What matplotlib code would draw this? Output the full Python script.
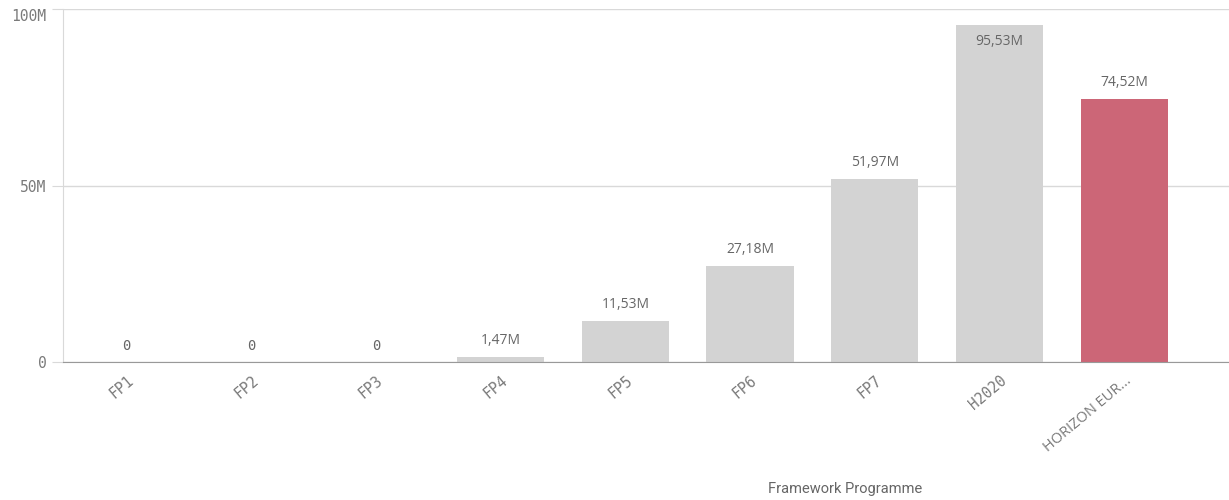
import matplotlib
matplotlib.use("Agg")
import matplotlib.pyplot as plt

# Funding per framework programme
programmes = ["FP1", "FP2", "FP3", "FP4", "FP5", "FP6", "FP7", "H2020", "HORIZON EUR..."]
funding = [0, 0, 0, 1.47e6, 11.53e6, 27.18e6, 51.97e6, 95.53e6, 74.52e6]
value_labels = ["0", "0", "0", "1,47M", "11,53M", "27,18M", "51,97M", "95,53M", "74,52M"]
y_ticks = [0, 50e6, 100e6]
y_tick_labels = ["0", "50M", "100M"]

grey = "#d3d3d3"
highlight = "#cc6677"
text_col = "#666666"
tick_col = "#7a7a7a"

fig = plt.figure(figsize=(12.29, 5.0), dpi=100)
ax = fig.add_axes([63 / 1229, 138 / 500, 1166 / 1229, 353 / 500])

x = list(range(len(programmes)))
colors = [grey] * (len(programmes) - 1) + [highlight]
ax.bar(x, funding, width=0.70, color=colors, zorder=2)

ax.set_xlim(-0.51, 8.84)
ax.set_ylim(0, 100e6)
ax.set_yticks(y_ticks)
ax.set_yticklabels(y_tick_labels, family="DejaVu Sans Mono", fontsize=10.5, color=tick_col)
# keep the top label inside the figure
ax.yaxis.get_major_ticks()[-1].label1.set_va("top")

ax.set_xticks(x)
ax.set_xticklabels(programmes, rotation=40, ha="right", rotation_mode="anchor",
                   family=["DejaVu Sans Mono"], fontsize=10.5, color=tick_col)
# the last label uses a proportional face
ax.get_xticklabels()[-1].set_family("Open Sans")

ax.grid(axis="y", color="#d9d9d9", linewidth=1, zorder=0)
ax.tick_params(axis="y", length=8, color="#d9d9d9", pad=4)
ax.tick_params(axis="x", length=0, pad=8)

for side in ["top", "right"]:
    ax.spines[side].set_visible(False)
ax.spines["left"].set_color("#d9d9d9")
ax.spines["bottom"].set_color("#999999")
ax.spines["bottom"].set_zorder(3)

for xi, v, lab in zip(x, funding, value_labels):
    fam = "DejaVu Sans Mono" if v == 0 else "Open Sans"
    if v > 90e6:
        ax.text(xi, v - 2.5e6, lab, ha="center", va="top", fontsize=10, color=text_col, family=fam)
    else:
        ax.text(xi, v + 2.5e6, lab, ha="center", va="bottom", fontsize=10, color=text_col, family=fam)

fig.text(845 / 1229, 11 / 500, "Framework Programme", ha="center", va="center",
         family="Roboto", fontsize=10.5, color=text_col)

fig.savefig("out.png", dpi=100)
